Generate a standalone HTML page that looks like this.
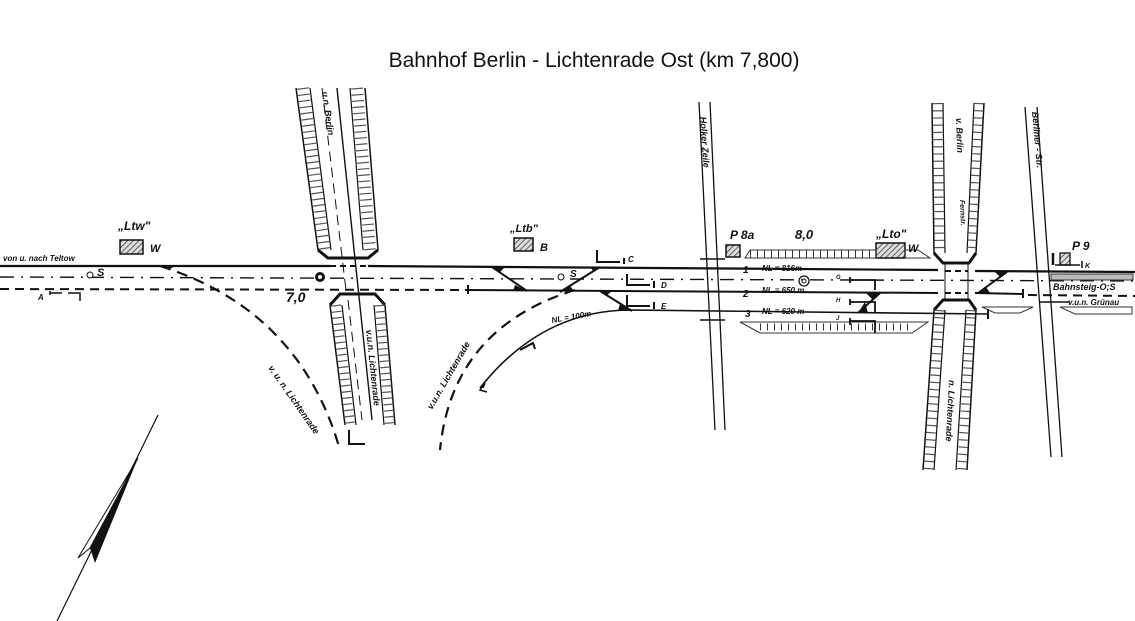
<!DOCTYPE html>
<html><head><meta charset="utf-8"><style>
html,body{margin:0;padding:0;background:#fff}
svg{display:block}
text{font-family:"Liberation Sans",sans-serif;fill:#111}
.it{font-style:italic;font-weight:bold}
</style></head><body>
<svg width="1135" height="621" viewBox="0 0 1135 621" xmlns="http://www.w3.org/2000/svg">
<defs>
<pattern id="h" width="4" height="4" patternUnits="userSpaceOnUse" patternTransform="rotate(45)"><rect width="4" height="4" fill="#ddd"/><line x1="0" y1="0" x2="0" y2="4" stroke="#333" stroke-width="1.5"/></pattern>
</defs>
<text x="594" y="67" font-size="21" text-anchor="middle">Bahnhof Berlin - Lichtenrade Ost (km 7,800)</text>

<g fill="none" stroke="#111">
<line x1="296" y1="88" x2="318" y2="250" stroke-width="1.5"/>
<line x1="310" y1="88" x2="331" y2="250" stroke-width="1.2"/>
<line x1="303" y1="88" x2="325" y2="250" stroke-width="12" stroke="#555" stroke-dasharray="1.2 5"/>
<line x1="350" y1="88" x2="363" y2="250" stroke-width="1.2"/>
<line x1="365" y1="88" x2="378" y2="250" stroke-width="1.5"/>
<line x1="357" y1="88" x2="370" y2="250" stroke-width="12" stroke="#555" stroke-dasharray="1.2 5"/>
<line x1="322" y1="88" x2="346" y2="290" stroke-width="1" stroke-dasharray="10 6"/>
<line x1="337" y1="88" x2="372" y2="420" stroke-width="1.4"/>
<polyline points="318,250 328,258 368,258 378,250" stroke-width="3"/>
<polyline points="330,305 340,294 375,294 385,305" stroke-width="3"/>
<line x1="330" y1="305" x2="345" y2="425" stroke-width="1.5"/>
<line x1="342" y1="305" x2="356" y2="425" stroke-width="1.2"/>
<line x1="336" y1="305" x2="350" y2="425" stroke-width="10" stroke="#555" stroke-dasharray="1.2 5"/>
<line x1="374" y1="305" x2="384" y2="425" stroke-width="1.2"/>
<line x1="385" y1="305" x2="395" y2="425" stroke-width="1.5"/>
<line x1="380" y1="305" x2="390" y2="425" stroke-width="10" stroke="#555" stroke-dasharray="1.2 5"/>
<line x1="348" y1="300" x2="362" y2="420" stroke-width="1" stroke-dasharray="10 6"/>

<line x1="932" y1="103" x2="934" y2="253" stroke-width="1.5"/>
<line x1="943" y1="103" x2="945" y2="253" stroke-width="1.2"/>
<line x1="937.5" y1="103" x2="939.5" y2="253" stroke-width="10" stroke="#555" stroke-dasharray="1.2 6"/>
<line x1="974" y1="103" x2="967" y2="253" stroke-width="1.2"/>
<line x1="984" y1="103" x2="976" y2="253" stroke-width="1.5"/>
<line x1="979" y1="103" x2="971.5" y2="253" stroke-width="9" stroke="#555" stroke-dasharray="1.2 6"/>
<polyline points="934,253 943,263 969,263 976,253" stroke-width="3"/>
<polyline points="934,310 943,300 969,300 976,310" stroke-width="3"/>
<line x1="945" y1="263" x2="945" y2="300" stroke-width="1"/>
<line x1="968" y1="263" x2="968" y2="300" stroke-width="1"/>
<line x1="934" y1="310" x2="923" y2="470" stroke-width="1.5"/>
<line x1="945" y1="310" x2="934" y2="470" stroke-width="1.2"/>
<line x1="939.5" y1="310" x2="928.5" y2="470" stroke-width="10" stroke="#555" stroke-dasharray="1.2 6"/>
<line x1="966" y1="310" x2="956" y2="470" stroke-width="1.2"/>
<line x1="976" y1="310" x2="967" y2="470" stroke-width="1.5"/>
<line x1="971" y1="310" x2="961.5" y2="470" stroke-width="9" stroke="#555" stroke-dasharray="1.2 6"/>

<line x1="699" y1="102" x2="715" y2="430" stroke-width="1.3"/>
<line x1="710" y1="102" x2="725" y2="430" stroke-width="1.3"/>
<line x1="1025" y1="107" x2="1051" y2="457" stroke-width="1.3"/>
<line x1="1037" y1="107" x2="1062" y2="457" stroke-width="1.3"/>

<line x1="0" y1="266" x2="330" y2="266" stroke-width="2.2"/>
<line x1="368" y1="266" x2="938" y2="270" stroke-width="2.2"/>
<line x1="975" y1="271" x2="1135" y2="272" stroke-width="2.2"/>
<line x1="330" y1="266" x2="368" y2="266" stroke-width="2" stroke-dasharray="6 4"/>
<line x1="945" y1="271" x2="968" y2="271" stroke-width="2" stroke-dasharray="6 4"/>
<line x1="0" y1="277" x2="1135" y2="281" stroke-width="1.4" stroke-dasharray="14 7 2 7"/>
<line x1="0" y1="289" x2="468" y2="290" stroke-width="2" stroke-dasharray="9 6"/>
<line x1="468" y1="285" x2="468" y2="294" stroke-width="2"/>
<line x1="468" y1="290" x2="938" y2="293" stroke-width="2"/>
<line x1="975" y1="293" x2="1023" y2="294" stroke-width="2"/>
<line x1="945" y1="293" x2="968" y2="293" stroke-width="2" stroke-dasharray="6 4"/>
<line x1="1023" y1="289" x2="1023" y2="298" stroke-width="2"/>
<line x1="1028" y1="295" x2="1135" y2="296" stroke-width="2" stroke-dasharray="9 6"/>
<path d="M480,388 Q540,312 627,310 L988,314" stroke-width="1.6"/>
<line x1="988" y1="309" x2="988" y2="319" stroke-width="2"/>
<line x1="492" y1="267" x2="527" y2="291" stroke-width="2"/>
<line x1="600" y1="267" x2="560" y2="292" stroke-width="2"/>
<line x1="600" y1="291" x2="632" y2="311" stroke-width="2"/>
<line x1="880" y1="293" x2="858" y2="313" stroke-width="2"/>
<line x1="1007" y1="272" x2="978" y2="293" stroke-width="2"/>
<path d="M160,266 Q300,310 340,450" stroke-width="2.2" stroke-dasharray="11 7"/>
<path d="M575,290 Q452,328 440,450" stroke-width="2.2" stroke-dasharray="11 7"/>
<line x1="57" y1="621" x2="158" y2="415" stroke-width="1.2"/>
</g>
<polygon points="138,458 95,563 90,548" fill="#111"/>
<polygon points="138,458 78,558 90,548" fill="none" stroke="#111" stroke-width="1"/>

<g fill="#111">
<polygon points="160,266 175,266 170,269"/>
<polygon points="492,267 505,267 500,272"/>
<polygon points="515,285 527,291 513,291"/>
<polygon points="590,267 600,267 594,272"/>
<polygon points="562,291 570,286 574,291"/>
<polygon points="600,291 612,291 606,296"/>
<polygon points="620,304 632,311 618,311"/>
<polygon points="880,293 866,293 872,299"/>
<polygon points="858,313 865,302 868,313"/>
<polygon points="1007,272 995,272 1000,277"/>
<polygon points="978,293 990,293 986,287"/>
<circle cx="320" cy="277" r="5"/>
</g>
<circle cx="320" cy="277" r="2" fill="#fff"/>
<circle cx="804" cy="281" r="5" fill="none" stroke="#111" stroke-width="1.3"/>
<circle cx="804" cy="281" r="2" fill="none" stroke="#111" stroke-width="1"/>
<circle cx="90" cy="275" r="3" fill="#fff" stroke="#111"/>
<circle cx="561" cy="277" r="3" fill="#fff" stroke="#111"/>

<rect x="120" y="240" width="23" height="14" fill="url(#h)" stroke="#111" stroke-width="1.5"/>
<rect x="514" y="238" width="19" height="13" fill="url(#h)" stroke="#111" stroke-width="1.5"/>
<rect x="726" y="245" width="14" height="12" fill="url(#h)" stroke="#111" stroke-width="1.5"/>
<rect x="876" y="243" width="29" height="15" fill="url(#h)" stroke="#111" stroke-width="1.5"/>
<rect x="1060" y="253" width="10" height="12" fill="url(#h)" stroke="#111" stroke-width="1.3"/>
<g fill="none" stroke="#333">
<polygon points="745,258 750,250 876,250 876,258" stroke-width="1"/>
<line x1="750" y1="254" x2="876" y2="254" stroke-width="7" stroke-dasharray="1 6"/>
<polygon points="905,250 918,250 930,258 905,258" stroke-width="1"/>
<polygon points="740,322 928,322 912,333 760,333" stroke-width="1"/>
<line x1="760" y1="327" x2="912" y2="327" stroke-width="7" stroke-dasharray="1 6"/>
<polygon points="982,307 1033,307 1020,313 995,313" stroke-width="1"/>
<polygon points="1060,307 1132,307 1132,314 1075,314" stroke-width="1"/>
<rect x="1051" y="274" width="82" height="6" fill="#bbb" stroke-width="1"/>
</g>

<g stroke="#111" fill="none" stroke-width="1.5">
<path d="M50,295 L50,291 M50,293 L62,293 M68,293 L80,293 L80,301"/>
<path d="M597,250 L597,262 L620,262 M624,258 L624,264" stroke-width="2"/>
<path d="M627,274 L627,285 L650,285 M654,281 L654,288" stroke-width="2"/>
<path d="M627,295 L627,306 L650,306 M654,302 L654,309" stroke-width="2"/>
<path d="M850,277 L850,283 M850,280 L875,280 L875,290" stroke-width="1.8"/>
<path d="M850,299 L850,305 M850,302 L875,302 L875,312" stroke-width="1.8"/>
<path d="M850,318 L850,325 M850,321 L875,321 L875,333" stroke-width="1.8"/>
<path d="M1055,265 L1080,265 M1082,261 L1082,268"/>
<path d="M1053,253 L1053,265" stroke-width="2.5"/>
<path d="M700,259 L725,259"/>
<path d="M700,320 L725,320"/>
<path d="M1040,302 L1070,302"/>
<path d="M349,430 L349,444 L365,444" stroke-width="2"/>
<path d="M485,382 L480,390 L487,392 M483,388 L485,383"/>
<path d="M520,350 L533,343 L535,349" stroke-width="2"/>
</g>

<g class="it">
<text x="118" y="230" font-size="12">„Ltw"</text>
<text x="150" y="252" font-size="11">W</text>
<text x="3" y="261" font-size="8">von u. nach Teltow</text>
<text x="97" y="276" font-size="11">S</text>
<text x="38" y="300" font-size="8">A</text>
<text x="286" y="302" font-size="14">7,0</text>
<text x="510" y="232" font-size="11">„Ltb"</text>
<text x="540" y="251" font-size="11">B</text>
<text x="570" y="277" font-size="10">S</text>
<text x="628" y="262" font-size="8">C</text>
<text x="661" y="288" font-size="8">D</text>
<text x="661" y="309" font-size="8">E</text>
<text x="552" y="323" font-size="8" transform="rotate(-10 552 323)">NL = 100m</text>
<text x="730" y="239" font-size="12">P 8a</text>
<text x="795" y="239" font-size="13">8,0</text>
<text x="876" y="238" font-size="12">„Lto"</text>
<text x="908" y="252" font-size="11">W</text>
<text x="1072" y="250" font-size="12">P 9</text>
<text x="1085" y="268" font-size="7">K</text>
<text x="743" y="273" font-size="10">1</text>
<text x="743" y="297" font-size="10">2</text>
<text x="745" y="317" font-size="10">3</text>
<text x="762" y="271" font-size="8">NL = 816m</text>
<text x="762" y="293" font-size="8">NL = 650 m</text>
<text x="762" y="314" font-size="8">NL = 620 m</text>
<text x="836" y="279" font-size="6">G</text>
<text x="836" y="302" font-size="6">H</text>
<text x="836" y="320" font-size="6">J</text>
<text x="1053" y="290" font-size="9">Bahnsteig-O;S</text>
<text x="1068" y="305" font-size="8">v.u.n. Grünau</text>
</g>
<g class="it" font-size="9">
<text transform="translate(322,92) rotate(82)">u.n. Berlin</text>
<text transform="translate(366,330) rotate(84)">v.u.n. Lichtenrade</text>
<text transform="translate(268,368) rotate(55)">v. u. n.  Lichtenrade</text>
<text transform="translate(432,410) rotate(-60)">v.u.n. Lichtenrade</text>
<text transform="translate(700,117) rotate(86)">Holker Zeile</text>
<text transform="translate(956,118) rotate(88)">v. Berlin</text>
<text transform="translate(960,200) rotate(88)" font-size="7">Fernstr.</text>
<text transform="translate(949,380) rotate(93)">n. Lichtenrade</text>
<text transform="translate(1032,112) rotate(85)">Berliner - Str.</text>
</g>
</svg>
</body></html>
